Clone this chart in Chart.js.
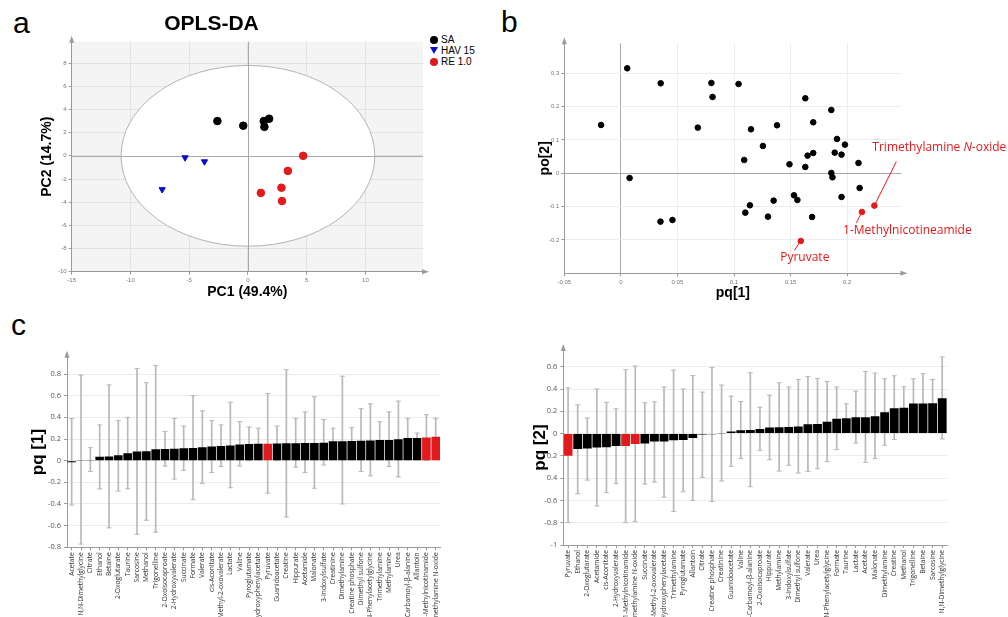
<!DOCTYPE html>
<html>
<head>
<meta charset="utf-8">
<script src="https://cdn.jsdelivr.net/npm/chart.js@4.4.1/dist/chart.umd.min.js"></script>
<style>
  html, body { margin: 0; padding: 0; width: 1008px; height: 617px; overflow: hidden; background: #fff; font-family: "Liberation Sans", Arial, sans-serif; }
  canvas { position: absolute; }
  .letter { position: absolute; font-size: 30px; line-height: 30px; color: #000; }
  #legendA { position: absolute; left: 429px; top: 34px; font-size: 10px; line-height: 11px; color: #000; }
  #legendA div { display: flex; align-items: center; height: 11px; }
  #legendA .mk { width: 9px; height: 9px; margin-right: 3px; display: flex; align-items: center; justify-content: center; }
  #legendA .dot { width: 8px; height: 8px; border-radius: 50%; }
  #legendA .tri { width: 0; height: 0; border-left: 4px solid transparent; border-right: 4px solid transparent; border-top: 7px solid; }
</style>
</head>
<body>
<div class="letter" style="left:13px; top:8px;">a</div>
<div class="letter" style="left:501px; top:7px;">b</div>
<div class="letter" style="left:11px; top:310px;">c</div>
<div id="legendA"></div>

<canvas id="chartA" width="494" height="305" style="left:0; top:0;"></canvas>
<canvas id="chartB" width="508" height="305" style="left:500px; top:0;"></canvas>
<canvas id="chartC1" width="500" height="290" style="left:0; top:340px;"></canvas>
<canvas id="chartC2" width="508" height="290" style="left:500px; top:340px;"></canvas>

<script>
// ---------- data: panel a (OPLS-DA scores) ----------
const groupNames = ['SA', 'HAV 15', 'RE 1.0'];
const saX = [-2.6, -0.4, 1.35, 1.8, 1.4];
const saY = [3.0, 2.6, 3.0, 3.2, 2.5];
const havX = [-5.35, -3.7, -7.3];
const havY = [-0.15, -0.5, -2.9];
const reX = [4.7, 3.4, 2.85, 1.1, 2.9];
const reY = [0.0, -1.3, -2.75, -3.2, -3.9];
const ellipseRadii = [10.8, 7.8];   // Hotelling T2 ellipse, x and y semi-axes
const scoreTicksX = [-15, -10, -5, 0, 5, 10];
const scoreTicksY = [-10, -8, -6, -4, -2, 0, 2, 4, 6, 8];

// ---------- data: panel b (loadings) ----------
const loadX = [-0.0175, 0.0056, 0.0077, 0.0352, 0.035, 0.0456, 0.068, 0.080, 0.081, 0.104,
  0.109, 0.110, 0.115, 0.114, 0.1255, 0.130, 0.135, 0.138, 0.149, 0.153,
  0.156, 0.163, 0.163, 0.165, 0.170, 0.170, 0.169, 0.186, 0.186, 0.187,
  0.189, 0.191, 0.195, 0.195, 0.198, 0.210, 0.211];
const loadY = [0.145, 0.315, -0.014, 0.27, -0.145, -0.14, 0.137, 0.271, 0.229, 0.268,
  0.040, -0.118, 0.132, -0.096, 0.082, -0.130, -0.082, 0.144, 0.027, -0.066,
  -0.080, 0.225, 0.019, 0.053, 0.153, 0.061, -0.131, 0.190, 0.001, -0.012,
  0.062, 0.103, 0.056, -0.071, 0.086, 0.031, -0.044];
const markedNames = ['Pyruvate', '1-Methylnicotineamide', 'Trimethylamine N-oxide'];
const markedX = [0.159, 0.213, 0.224];
const markedY = [-0.203, -0.116, -0.097];
const loadTicksX = [-0.05, 0, 0.05, 0.1, 0.15, 0.2];
const loadTickLabelsX = ['-0.05', '0', '0.05', '0.1', '0.15', '0.2'];
const loadTicksY = [-0.3, -0.2, -0.1, 0, 0.1, 0.2, 0.3];
const loadTickLabelsY = ['-0.3', '-0.2', '-0.1', '0', '0.1', '0.2', '0.3'];

// ---------- data: panel c, pq[1] ----------
const pq1Labels = ['Acetate', 'N,N-Dimethylglycine', 'Citrate', 'Ethanol', 'Betaine', '2-Oxoglutarate', 'Taurine',
  'Sarcosine', 'Methanol', 'Trigonelline', '2-Oxoisocaproate', '2-Hydroxyvalerate', 'Succinate', 'Formate',
  'Valerate', 'cis-Aconitate', '3-Methyl-2-oxovalerate', 'Lactate', 'Valine', 'Pyroglutamate',
  '4-Hydroxyphenylacetate', 'Pyruvate', 'Guanidoacetate', 'Creatine', 'Hippurate', 'Acetamide', 'Malonate',
  '3-Indoxylsulfate', 'Creatinine', 'Dimethylamine', 'Creatine phosphate', 'Dimethyl sulfone',
  'N-Phenylacetylglycine', 'Trimethylamine', 'Methylamine', 'Urea', 'N-Carbamoyl-β-alanine', 'Allantoin',
  '1-Methylnicotinamide', 'Trimethylamine N-oxide'];
const pq1Values = [-0.015, 0.005, 0.007, 0.037, 0.038, 0.05, 0.068, 0.085, 0.086, 0.106,
  0.108, 0.11, 0.115, 0.117, 0.125, 0.13, 0.135, 0.14, 0.15, 0.155,
  0.157, 0.157, 0.159, 0.16, 0.16, 0.163, 0.164, 0.165, 0.18, 0.18,
  0.182, 0.185, 0.187, 0.19, 0.19, 0.197, 0.21, 0.21, 0.213, 0.22];
const pq1Upper = [0.39, 0.79, 0.12, 0.33, 0.70, 0.37, 0.40, 0.85, 0.72, 0.88,
  0.27, 0.39, 0.32, 0.60, 0.46, 0.37, 0.33, 0.54, 0.36, 0.31,
  0.30, 0.62, 0.32, 0.84, 0.39, 0.45, 0.59, 0.38, 0.30, 0.78,
  0.305, 0.48, 0.525, 0.36, 0.45, 0.55, 0.39, 0.255, 0.425, 0.39];
const pq1Lower = [-0.41, -0.77, -0.10, -0.26, -0.62, -0.28, -0.26, -0.68, -0.55, -0.66,
  -0.05, -0.17, -0.09, -0.36, -0.21, -0.11, -0.055, -0.25, -0.05, 0.0,
  0.02, -0.30, 0.0, -0.52, -0.06, -0.11, -0.255, -0.04, 0.03, -0.40,
  0.04, -0.10, -0.14, 0.02, -0.055, -0.15, 0.02, 0.15, 0.0, 0.06];
const pq1TickValues = [-0.8, -0.6, -0.4, -0.2, 0, 0.2, 0.4, 0.6, 0.8];
const pq1TickLabels = ['-0.8', '-0.6', '-0.4', '-0.2', '0', '0.2', '0.4', '0.6', '0.8'];

// ---------- data: panel c, pq[2] ----------
const pq2Labels = ['Pyruvate', 'Ethanol', '2-Oxoglutarate', 'Acetamide', 'cis-Aconitate', '2-Hydroxyvalerate',
  '1-Methylnicotinamide', 'Trimethylamine N-oxide', 'Succinate', '3-Methyl-2-oxovalerate',
  '4-Hydroxyphenylacetate', 'Trimethylamine', 'Pyroglutamate', 'Allantoin', 'Citrate', 'Creatine phosphate',
  'Creatinine', 'Guanidoacetate', 'Valine', 'N-Carbamoyl-β-alanine', '2-Oxoisocaproate', 'Hippurate',
  'Methylamine', '3-Indoxylsulfate', 'Dimethyl sulfone', 'Valerate', 'Urea', 'N-Phenylacetylglycine',
  'Formate', 'Taurine', 'Lactate', 'Acetate', 'Malonate', 'Dimethylamine', 'Creatine', 'Methanol',
  'Trigonelline', 'Betaine', 'Sarcosine', 'N,N-Dimethylglycine'];
const pq2Values = [-0.198, -0.138, -0.135, -0.126, -0.123, -0.111, -0.111, -0.093, -0.09, -0.072,
  -0.072, -0.06, -0.057, -0.039, -0.009, -0.006, 0.003, 0.018, 0.03, 0.033,
  0.042, 0.054, 0.057, 0.06, 0.063, 0.084, 0.087, 0.105, 0.132, 0.138,
  0.147, 0.147, 0.156, 0.192, 0.228, 0.231, 0.27, 0.27, 0.273, 0.318];
const pq2Upper = [0.41, 0.258, 0.14, 0.40, 0.28, 0.222, 0.573, 0.606, 0.276, 0.285,
  0.417, 0.57, 0.40, 0.52, 0.372, 0.594, 0.435, 0.336, 0.288, 0.546,
  0.237, 0.345, 0.456, 0.417, 0.486, 0.513, 0.495, 0.468, 0.417, 0.267,
  0.381, 0.558, 0.543, 0.492, 0.519, 0.42, 0.492, 0.537, 0.486, 0.687];
const pq2Lower = [-0.80, -0.54, -0.417, -0.65, -0.53, -0.45, -0.80, -0.79, -0.453, -0.435,
  -0.57, -0.70, -0.522, -0.60, -0.393, -0.61, -0.426, -0.294, -0.225, -0.477,
  -0.15, -0.234, -0.336, -0.285, -0.354, -0.339, -0.315, -0.252, -0.144, 0.08,
  -0.084, -0.258, -0.225, -0.105, -0.054, 0.1, 0.1, 0.1, 0.1, -0.048];
const pq2TickValues = [-1, -0.8, -0.6, -0.4, -0.2, 0, 0.2, 0.4, 0.6];
const pq2TickLabels = ['-1', '-0.8', '-0.6', '0.4', '0.2', '0', '0.2', '0.4', '0.6'];

const highlighted = ['Pyruvate', '1-Methylnicotinamide', 'Trimethylamine N-oxide'];

// ---------- styling ----------
const RED = '#e31a1c';
const BLUE = '#0a0ad2';
const AXIS = '#9a9a9a';
const WHISKER = '#b8b8b8';
const FONT = 'Liberation Sans';

// legend for panel a
const legendShapes = [['dot', '#000'], ['tri', BLUE], ['dot', RED]];
document.getElementById('legendA').innerHTML = groupNames.map((n, i) => {
  const [shape, col] = legendShapes[i];
  const mk = shape === 'tri'
    ? `<span class="tri" style="border-top-color:${col}"></span>`
    : `<span class="dot" style="background:${col}"></span>`;
  return `<div><span class="mk">${mk}</span>${n}</div>`;
}).join('');

function tickFrom(values, labels) {
  return v => {
    const i = values.findIndex(t => Math.abs(t - v) < 1e-6);
    return i < 0 ? '' : labels[i];
  };
}

function toPoints(xs, ys) {
  return xs.map((x, i) => ({ x, y: ys[i] }));
}

// small arrow heads at the ends of the axes
function axisArrows(up, right) {
  return {
    id: 'axisArrows',
    afterDraw(chart) {
      const { ctx, chartArea: a } = chart;
      ctx.save();
      ctx.fillStyle = AXIS;
      if (up) {
        ctx.beginPath();
        ctx.moveTo(a.left, a.top - 6);
        ctx.lineTo(a.left - 2.5, a.top + 1);
        ctx.lineTo(a.left + 2.5, a.top + 1);
        ctx.fill();
      }
      if (right) {
        ctx.beginPath();
        ctx.moveTo(a.right + 6, a.bottom);
        ctx.lineTo(a.right - 1, a.bottom - 2.5);
        ctx.lineTo(a.right - 1, a.bottom + 2.5);
        ctx.fill();
      }
      ctx.restore();
    }
  };
}

// grey plot background, white T2 ellipse and the zero lines
const scorePlot = {
  id: 'scorePlot',
  beforeDraw(chart) {
    const { ctx, chartArea: a } = chart;
    ctx.save();
    ctx.fillStyle = '#f4f4f4';
    ctx.fillRect(a.left, a.top, a.right - a.left, a.bottom - a.top);
    ctx.restore();
  },
  beforeDatasetsDraw(chart) {
    const { ctx, chartArea: a, scales: { x, y } } = chart;
    const cx = x.getPixelForValue(0);
    const cy = y.getPixelForValue(0);
    const rx = x.getPixelForValue(ellipseRadii[0]) - cx;
    const ry = cy - y.getPixelForValue(ellipseRadii[1]);
    ctx.save();
    ctx.beginPath();
    ctx.ellipse(cx, cy, rx, ry, 0, 0, Math.PI * 2);
    ctx.fillStyle = '#fff';
    ctx.fill();
    ctx.strokeStyle = '#b4b4b4';
    ctx.lineWidth = 1;
    ctx.stroke();
    ctx.strokeStyle = '#a8a8a8';
    ctx.beginPath();
    ctx.moveTo(Math.round(cx) + 0.5, a.top);
    ctx.lineTo(Math.round(cx) + 0.5, a.bottom);
    ctx.moveTo(a.left, Math.round(cy) + 0.5);
    ctx.lineTo(a.right, Math.round(cy) + 0.5);
    ctx.stroke();
    ctx.restore();
  }
};

// red callout labels in panel b
const calloutStyle = [
  { lx: -6.5, ly: 9.5, tx: 4, ty: 16.5 },
  { lx: -5.5, ly: 11, tx: 45.5, ty: 19 },
  { lx: 22, ly: -44, tx: 65, ty: -58 }
];
const callouts = {
  id: 'callouts',
  afterDatasetsDraw(chart) {
    const { ctx } = chart;
    const meta = chart.getDatasetMeta(1);
    ctx.save();
    ctx.strokeStyle = RED;
    ctx.fillStyle = RED;
    ctx.lineWidth = 1;
    ctx.textBaseline = 'middle';
    meta.data.forEach((pt, i) => {
      const s = calloutStyle[i];
      ctx.beginPath();
      ctx.moveTo(pt.x, pt.y);
      ctx.lineTo(pt.x + s.lx, pt.y + s.ly);
      ctx.stroke();
      const parts = markedNames[i].split(/(\bN(?=-))/).filter(p => p);
      const fontOf = p => (p === 'N' ? 'italic ' : '') + '12px "Open Sans"';
      let w = 0;
      parts.forEach(p => { ctx.font = fontOf(p); w += ctx.measureText(p).width; });
      let x = pt.x + s.tx - w / 2;
      parts.forEach(p => {
        ctx.font = fontOf(p);
        ctx.fillText(p, x, pt.y + s.ty);
        x += ctx.measureText(p).width;
      });
    });
    ctx.restore();
  }
};

const tinyTicks = { font: { family: FONT, size: 6 }, color: '#777', padding: 2 };
const boldTitle = size => ({ family: FONT, size, weight: 'bold' });

// ---------- panel a ----------
new Chart(document.getElementById('chartA'), {
  type: 'scatter',
  data: {
    datasets: [
      { label: groupNames[0], data: toPoints(saX, saY), pointStyle: 'circle', pointRadius: 3.8, backgroundColor: '#000', borderColor: '#000' },
      { label: groupNames[1], data: toPoints(havX, havY), pointStyle: 'triangle', rotation: 180, pointRadius: 3.6, backgroundColor: BLUE, borderColor: BLUE },
      { label: groupNames[2], data: toPoints(reX, reY), pointStyle: 'circle', pointRadius: 3.8, backgroundColor: RED, borderColor: RED }
    ]
  },
  options: {
    responsive: false, animation: false, events: [],
    layout: { padding: { left: 0, top: 0, right: 71, bottom: 0 } },
    plugins: {
      legend: { display: false }, tooltip: { enabled: false },
      title: { display: true, text: 'OPLS-DA', color: '#000', font: boldTitle(21), padding: { top: 12, bottom: 4.5 } }
    },
    scales: {
      x: {
        type: 'linear', min: -15, max: 14.9,
        afterFit: s => { s.height = 33.3; },
        ticks: { ...tinyTicks, stepSize: 5, includeBounds: false, callback: tickFrom(scoreTicksX, scoreTicksX.map(String)) },
        grid: { color: '#e2e2e2', tickLength: 3, tickColor: AXIS },
        border: { color: AXIS },
        title: { display: true, text: 'PC1 (49.4%)', color: '#000', font: boldTitle(14), padding: { top: 0, bottom: 4.6 } }
      },
      y: {
        type: 'linear', min: -10, max: 9.85,
        afterFit: s => { s.width = 71.7; },
        ticks: { ...tinyTicks, stepSize: 2, includeBounds: false, callback: tickFrom(scoreTicksY, scoreTicksY.map(String)) },
        grid: { color: '#e2e2e2', tickLength: 3, tickColor: AXIS },
        border: { color: AXIS },
        title: { display: true, text: 'PC2 (14.7%)', color: '#000', font: boldTitle(14), padding: { top: 39, bottom: 0 } }
      }
    }
  },
  plugins: [scorePlot, axisArrows(true, true)]
});

// ---------- panel b ----------
const zeroGrid = c => (c.tick && Math.abs(c.tick.value) < 1e-9 ? '#a8a8a8' : '#ededed');
new Chart(document.getElementById('chartB'), {
  type: 'scatter',
  data: {
    datasets: [
      { data: toPoints(loadX, loadY), pointRadius: 2.8, backgroundColor: '#000', borderColor: '#000' },
      { data: toPoints(markedX, markedY), pointRadius: 2.8, backgroundColor: RED, borderColor: RED }
    ]
  },
  options: {
    responsive: false, animation: false, events: [],
    layout: { padding: { left: 0, top: 43.3, right: 106.5, bottom: 0 } },
    plugins: { legend: { display: false }, tooltip: { enabled: false } },
    scales: {
      x: {
        type: 'linear', min: -0.05, max: 0.248,
        afterFit: s => { s.height = 31.7; },
        ticks: { ...tinyTicks, stepSize: 0.05, includeBounds: false, callback: tickFrom(loadTicksX, loadTickLabelsX) },
        grid: { color: zeroGrid, tickLength: 3, tickColor: AXIS },
        border: { color: AXIS },
        title: { display: true, text: 'pq[1]', color: '#000', font: boldTitle(14), padding: { top: 0, bottom: 3.6 } }
      },
      y: {
        type: 'linear', min: -0.3, max: 0.39,
        afterFit: s => { s.width = 64.3; },
        ticks: { ...tinyTicks, stepSize: 0.1, includeBounds: false, callback: tickFrom(loadTicksY, loadTickLabelsY) },
        grid: { color: zeroGrid, tickLength: 3, tickColor: AXIS },
        border: { color: AXIS },
        title: { display: true, text: 'po[2]', color: '#000', font: boldTitle(14), padding: { top: 36.6, bottom: 0 } }
      }
    }
  },
  plugins: [callouts, axisArrows(true, true)]
});

// ---------- panel c ----------
function loadingBars(id, labels, values, upper, lower, tickValues, tickLabels, cfg) {
  const barColors = labels.map(l => (highlighted.includes(l) ? RED : '#000'));
  return new Chart(document.getElementById(id), {
    type: 'bar',
    data: {
      labels,
      datasets: [
        { data: values, backgroundColor: barColors, barPercentage: 0.92, categoryPercentage: 1, grouped: false, order: 0 },
        { data: labels.map((_, i) => [lower[i], upper[i]]), backgroundColor: WHISKER, barThickness: 1, grouped: false, order: 1 },
        { type: 'line', data: upper, showLine: false, pointStyle: 'line', pointRadius: 2.5, pointBorderColor: WHISKER, pointBorderWidth: 1, order: 1 },
        { type: 'line', data: lower, showLine: false, pointStyle: 'line', pointRadius: 2.5, pointBorderColor: WHISKER, pointBorderWidth: 1, order: 1 }
      ]
    },
    options: {
      responsive: false, animation: false, events: [],
      layout: { padding: { left: 0, top: cfg.top, right: cfg.right, bottom: 0 } },
      plugins: { legend: { display: false }, tooltip: { enabled: false } },
      scales: {
        x: {
          afterFit: s => { s.height = cfg.xHeight; },
          ticks: { autoSkip: false, minRotation: 90, maxRotation: 90, padding: 2, color: '#333', font: { family: 'Open Sans', size: 6.7 } },
          grid: { drawOnChartArea: false, offset: false, tickLength: 3, tickColor: AXIS },
          border: { color: AXIS }
        },
        y: {
          min: cfg.min, max: cfg.max,
          afterFit: s => { s.width = cfg.yWidth; },
          ticks: { stepSize: 0.1, includeBounds: false, padding: 3, color: '#555', font: { family: 'Open Sans', size: 7.5 }, callback: tickFrom(tickValues, tickLabels) },
          grid: { color: c => (c.tick && c.tick.label !== '' ? '#ebebeb' : 'rgba(0,0,0,0)'), tickLength: 3, tickColor: AXIS },
          border: { color: AXIS },
          title: { display: true, text: cfg.title, color: '#000', font: boldTitle(17), padding: { top: cfg.titlePad, bottom: 0 } }
        }
      }
    },
    plugins: [axisArrows(true, false)]
  });
}

loadingBars('chartC1', pq1Labels, pq1Values, pq1Upper, pq1Lower, pq1TickValues, pq1TickLabels,
  { top: 16.7, right: 59.6, xHeight: 82.7, yWidth: 67, min: -0.8, max: 0.96, title: 'pq [1]', titlePad: 28.3 });
loadingBars('chartC2', pq2Labels, pq2Values, pq2Upper, pq2Lower, pq2TickValues, pq2TickLabels,
  { top: 10, right: 61, xHeight: 85, yWidth: 63.3, min: -1, max: 0.75, title: 'pq [2]', titlePad: 29.8 });
</script>
</body>
</html>
